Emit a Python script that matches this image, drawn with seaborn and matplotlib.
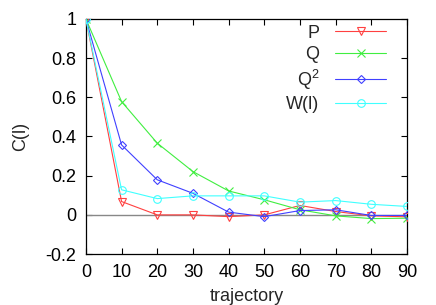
import seaborn as sns
import matplotlib.pyplot as plt
import pandas as pd

# correlation C(l) vs trajectory step
steps = [0, 10, 20, 30, 40, 50, 60, 70, 80, 90]
c_P = [1.0, 0.068, 0.0, 0.0, -0.009, 0.0, 0.048, 0.017, -0.005, -0.01]
c_Q = [1.0, 0.578, 0.366, 0.221, 0.122, 0.077, 0.026, -0.005, -0.019, -0.017]
c_Q2 = [1.0, 0.357, 0.179, 0.11, 0.014, -0.009, 0.022, 0.026, -0.003, -0.003]
c_W = [1.0, 0.128, 0.083, 0.097, 0.097, 0.097, 0.065, 0.073, 0.054, 0.043]

labels = ['P', 'Q', 'Q$^2$', 'W(l)']
colors = ['#ff4040', '#40ee40', '#4040ff', '#40ffff']
markers = ['v', 'x', 'D', 'o']
msizes = [5.5, 6, 4.5, 5.5]

df = pd.DataFrame({'trajectory': steps * 4,
                   'C': c_P + c_Q + c_Q2 + c_W,
                   'series': sum([[l] * len(steps) for l in labels], [])})

sns.set_theme(style='white')
plt.rcParams['font.family'] = ['Liberation Sans', 'DejaVu Sans']
plt.rcParams['mathtext.fontset'] = 'custom'
plt.rcParams['mathtext.rm'] = 'Liberation Sans'

fig = plt.figure(figsize=(4.36, 3.05), dpi=100)
ax = fig.add_axes([0.197, 0.167, 0.7365, 0.771])

ax.axhline(0, color='#888888', lw=1, zorder=1)
for i, lab in enumerate(labels):
    d = df[df.series == lab]
    sns.lineplot(data=d, x='trajectory', y='C', ax=ax, color=colors[i], lw=0.8,
                 marker=markers[i], markersize=msizes[i], label=lab, zorder=3)

# open markers like the original
for ln in ax.lines[1:]:
    c = ln.get_color()
    ln.set_markerfacecolor('none')
    ln.set_markeredgecolor(c)
    ln.set_markeredgewidth(0.8)

ax.set_xlim(0, 90)
ax.set_ylim(-0.2, 1)
ax.set_xticks(range(0, 91, 10))
ax.set_yticks([-0.2, 0, 0.2, 0.4, 0.6, 0.8, 1])
ax.set_yticklabels(['-0.2', '0', '0.2', '0.4', '0.6', '0.8', '1'])
ax.tick_params(direction='in', length=4, width=0.8, top=True, right=True,
               bottom=True, left=True, labelsize=13, pad=7, colors='black')
for s in ax.spines.values():
    s.set_color('black')
    s.set_linewidth(0.9)
ax.set_xlabel('trajectory', fontsize=13, labelpad=5)
ax.set_ylabel('C(l)', fontsize=13, labelpad=12)

leg = ax.legend(loc='upper right', frameon=False, markerfirst=False, fontsize=13,
                handlelength=2.8, handletextpad=0.9, labelspacing=0.25,
                bbox_to_anchor=(0.985, 1.045))
for h in leg.legend_handles:
    h.set_markerfacecolor('none')
    h.set_markeredgewidth(0.8)
for t in leg.get_texts():
    t.set_ha('right')
leg._legend_box.align = 'right'

plt.savefig('out.png', dpi=100)
